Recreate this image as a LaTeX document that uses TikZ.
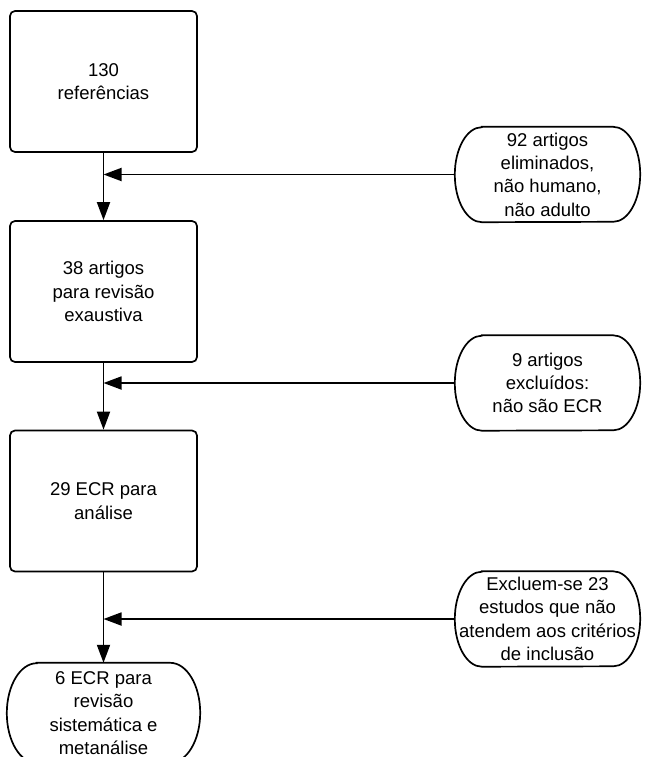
\documentclass[tikz,border=0pt]{standalone}
\usepackage{fontspec}
\setmainfont{Liberation Sans}
\usetikzlibrary{arrows.meta}
\newcommand\stadium[3]{\draw[line width=1.7pt] ([xshift=#2]#1.north west) -- ([xshift=-#2]#1.north east) arc[start angle=90,end angle=-90,x radius=#2,y radius=#3] -- ([xshift=#2]#1.south west) arc[start angle=270,end angle=90,x radius=#2,y radius=#3] -- cycle;}
\begin{document}
\begin{tikzpicture}[x=1pt,y=-1pt,
  txt/.style={font=\fontsize{18.5}{23.3}\selectfont, align=center, inner sep=0pt},
  box/.style={txt, draw, line width=1.7pt, rounded corners=5pt, minimum width=187pt, minimum height=141pt},
  term/.style={txt, minimum width=185pt, minimum height=95pt},
  conn/.style={line width=1.8pt, -{Triangle[length=18pt,width=13pt]}}]
\useasboundingbox (0,0) rectangle (645,757);
\clip (0,0) rectangle (645,757);
\fill[white] (0,0) rectangle (645,757);
\node[box] (b1) at (103.5,81.5) {130\\referências};
\node[box] (b2) at (103.5,291.5) {38 artigos\\para revisão\\exaustiva};
\node[box] (b3) at (103.5,501) {29 ECR para\\análise};
\node[term, minimum width=193pt, minimum height=100pt] (b4) at (103.5,713) {6 ECR para\\revisão\\sistemática e\\metanálise};
\node[term] (t1) at (547.5,174.5) {92 artigos\\eliminados,\\não humano,\\não adulto};
\node[term] (t2) at (547.5,383) {9 artigos\\excluídos:\\não são ECR};
\node[term] (t3) at (547.5,619) {Excluem-se 23\\estudos que não\\atendem aos critérios\\de inclusão};
\stadium{t1}{27pt}{47.5pt}
\stadium{t2}{27pt}{47.5pt}
\stadium{t3}{27pt}{47.5pt}
\stadium{b4}{30pt}{50pt}
\draw[conn] (b1) -- (b2);
\draw[conn] (b2) -- (b3);
\draw[conn] (b3) -- (b4);
\draw[conn] (t1.west) -- (t1.west -| b1);
\draw[conn] (t2.west) -- (t2.west -| b2);
\draw[conn] (t3.west) -- (t3.west -| b3);
\end{tikzpicture}
\end{document}
